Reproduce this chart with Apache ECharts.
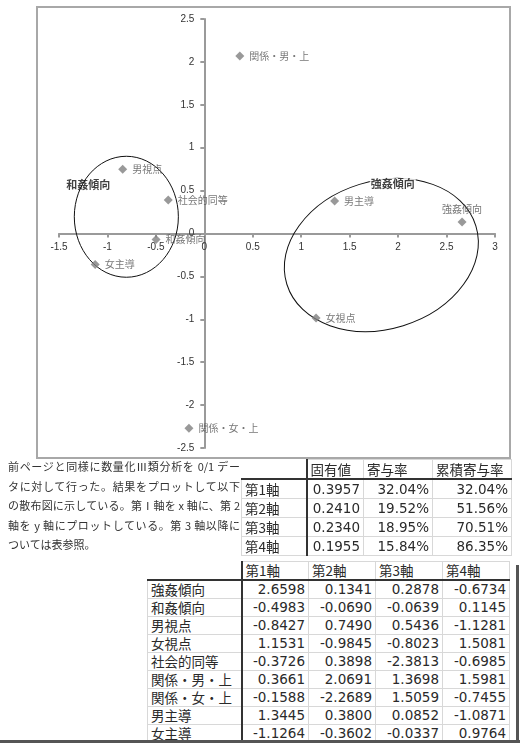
<!DOCTYPE html>
<html lang="ja">
<head>
<meta charset="utf-8">
<script src="https://cdn.jsdelivr.net/npm/echarts@6/dist/echarts.min.js"></script>
<style>
html,body{margin:0;padding:0;background:#fff;width:520px;height:743px;overflow:hidden;}
#chart{position:absolute;left:0;top:0;width:520px;height:460px;}
#para{position:absolute;left:8px;top:457px;width:232px;font-family:"Noto Sans CJK JP",sans-serif;font-size:11px;color:#333;line-height:19.5px;}
#para div{white-space:nowrap;}
#para div.j{text-align:justify;text-align-last:justify;text-justify:inter-character;white-space:normal;}
table{position:absolute;border-collapse:collapse;table-layout:fixed;font-family:"DejaVu Sans","Noto Sans CJK JP",sans-serif;font-size:13.5px;color:#2a2a2a;}
td{border:1px solid #d8d8d8;padding:0 3px;overflow:hidden;white-space:nowrap;line-height:15px;vertical-align:middle;}
td.num{text-align:right;}
td.hd{text-align:left;}
td.lab{text-align:left;font-family:"Noto Sans CJK JP",sans-serif;}
tr.head td{border-bottom:2px solid #333;}
td.sep{border-left:2px solid #333;}
#t1{left:241px;top:459px;}
#t1 td{height:18px;padding-top:0;padding-bottom:0;}
#t2{left:147px;top:561px;}
#t2 td{height:17px;}
td.blank{border-top:none;border-left:none;}
#vbar{position:absolute;left:516px;top:565px;width:3px;height:178px;background:#555;}
#hbar{position:absolute;left:0;top:740px;width:520px;height:3px;background:#555;}
</style>
</head>
<body>
<div id="chart"></div>
<div id="para">
<div class="j">前ページと同様に数量化Ⅲ類分析を 0/1 デー</div>
<div class="j">タに対して行った。結果をプロットして以下</div>
<div class="j">の散布図に示している。第Ⅰ軸を x 軸に、第 2</div>
<div class="j">軸を y 軸にプロットしている。第 3 軸以降に</div>
<div>ついては表参照。</div>
</div>
<table id="t1"></table>
<table id="t2"></table>
<div id="vbar"></div>
<div id="hbar"></div>
<script>
// ---- data ----
const categories = ['強姦傾向','和姦傾向','男視点','女視点','社会的同等','関係・男・上','関係・女・上','男主導','女主導'];
const axis1 = [2.6598,-0.4983,-0.8427,1.1531,-0.3726,0.3661,-0.1588,1.3445,-1.1264];
const axis2 = [0.1341,-0.0690,0.7490,-0.9845,0.3898,2.0691,-2.2689,0.3800,-0.3602];
const axis3 = [0.2878,-0.0639,0.5436,-0.8023,-2.3813,1.3698,1.5059,0.0852,-0.0337];
const axis4 = [-0.6734,0.1145,-1.1281,1.5081,-0.6985,1.5981,-0.7455,-1.0871,0.9764];
const axisNames = ['第1軸','第2軸','第3軸','第4軸'];
const eigenValues = ['0.3957','0.2410','0.2340','0.1955'];
const contribution = ['32.04%','19.52%','18.95%','15.84%'];
const cumulative = ['32.04%','51.56%','70.51%','86.35%'];
const eigenHeaders = ['固有値','寄与率','累積寄与率'];
const clusterNames = ['和姦傾向','強姦傾向'];
const xTicks = {min:-1.5,max:3,interval:0.5};
const yTicks = {min:-2.5,max:2.5,interval:0.5};

// ---- tables ----
(function(){
  const t1 = document.getElementById('t1');
  const w1 = [65,57,69,79];
  let h = '<colgroup>' + w1.map(w=>'<col style="width:'+w+'px">').join('') + '</colgroup>';
  h += '<tr class="head"><td class="blank"></td>' + eigenHeaders.map((s,i)=>'<td class="hd lab'+(i===0?' sep':'')+'">'+s+'</td>').join('') + '</tr>';
  for (let i=0;i<axisNames.length;i++){
    h += '<tr><td class="lab">'+axisNames[i]+'</td><td class="num sep">'+eigenValues[i]+'</td><td class="num">'+contribution[i]+'</td><td class="num">'+cumulative[i]+'</td></tr>';
  }
  t1.innerHTML = h;
  t1.style.width = w1.reduce((a,b)=>a+b,0)+'px';

  const t2 = document.getElementById('t2');
  const w2 = [94,67,67,67,67];
  let g = '<colgroup>' + w2.map(w=>'<col style="width:'+w+'px">').join('') + '</colgroup>';
  g += '<tr class="head"><td class="blank"></td>' + axisNames.map((s,i)=>'<td class="hd lab'+(i===0?' sep':'')+'">'+s+'</td>').join('') + '</tr>';
  const cols = [axis1,axis2,axis3,axis4];
  for (let i=0;i<categories.length;i++){
    g += '<tr><td class="lab">'+categories[i]+'</td>' + cols.map((c,j)=>'<td class="num'+(j===0?' sep':'')+'">'+c[i].toFixed(4)+'</td>').join('') + '</tr>';
  }
  t2.innerHTML = g;
  t2.style.width = w2.reduce((a,b)=>a+b,0)+'px';
})();

// ---- chart ----
const chart = echarts.init(document.getElementById('chart'), null, {renderer:'canvas'});
const gridW = 436, gridH = 429;
// axes cross at zero: shift each axis from the grid edge to the zero of the other scale
const yAxisOffset = -gridW * (0 - xTicks.min) / (xTicks.max - xTicks.min);
const xAxisOffset = -gridH * (0 - yTicks.min) / (yTicks.max - yTicks.min);
const pts = categories.map((n,i)=>{
  const d = {name:n, value:[axis1[i], axis2[i]]};
  if (n === '強姦傾向') d.label = {position:'top', offset:[-6,0], distance:3};
  return d;
});
const axisLineStyle = {color:'#9a9a9a', width:2};
const labelCommon = {color:'#333', fontSize:10, fontFamily:'"Liberation Sans", sans-serif', showMinLabel:true, showMaxLabel:true, hideOverlap:false};
const option = {
  animation:false,
  backgroundColor:'#fff',
  textStyle:{fontFamily:'"Noto Sans CJK JP", sans-serif'},
  graphic:[{type:'rect', shape:{x:37,y:7,width:473,height:451}, style:{fill:'none', stroke:'#a8a8a8', lineWidth:2}, z:-1}],
  grid:{left:59, top:19, width:gridW, height:gridH, containLabel:false},
  xAxis:{type:'value', min:xTicks.min, max:xTicks.max, interval:xTicks.interval, position:'bottom', offset:xAxisOffset,
    axisLine:{onZero:false, lineStyle:axisLineStyle},
    axisTick:{show:true, length:4, lineStyle:axisLineStyle},
    splitLine:{show:false},
    axisLabel:Object.assign({margin:9}, labelCommon)},
  yAxis:{type:'value', min:yTicks.min, max:yTicks.max, interval:yTicks.interval, position:'left', offset:yAxisOffset,
    axisLine:{onZero:false, lineStyle:axisLineStyle},
    axisTick:{show:true, length:4, lineStyle:axisLineStyle},
    splitLine:{show:false},
    axisLabel:Object.assign({margin:10}, labelCommon)},
  series:[
    {type:'custom', z:1, silent:true, clip:false,
     data:[[-0.805,0.195,0.537,0.705,0],[1.827,-0.251,1.021,0.862,0.3]],
     renderItem:function(params, api){
       const c = api.coord([api.value(0), api.value(1)]);
       const s = api.size([api.value(2), api.value(3)]);
       return {type:'ellipse', x:c[0], y:c[1], rotation:api.value(4),
         shape:{cx:0, cy:0, rx:s[0], ry:s[1]},
         style:{fill:'transparent', stroke:'#111', lineWidth:1}};
     }},
    {type:'scatter', z:3, symbol:'diamond', symbolSize:9,
     itemStyle:{color:'#808080'},
     label:{show:true, position:'right', distance:5, formatter:'{b}', color:'#555', fontSize:10, fontFamily:'"Noto Sans CJK JP", sans-serif'},
     labelLayout:{hideOverlap:false},
     data:pts},
    {type:'scatter', z:4, symbol:'circle', symbolSize:1, silent:true,
     itemStyle:{color:'rgba(0,0,0,0)'},
     label:{show:true, position:'inside', formatter:'{b}', color:'#111', fontSize:11, fontWeight:'bold', fontFamily:'"Noto Sans CJK JP", sans-serif'},
     data:[{name:clusterNames[0], value:[-1.197,0.571]},
           {name:clusterNames[1], value:[1.945,0.583], label:{backgroundColor:'#fff', padding:[0,1]}}]}
  ]
};
chart.setOption(option);
</script>
</body>
</html>
